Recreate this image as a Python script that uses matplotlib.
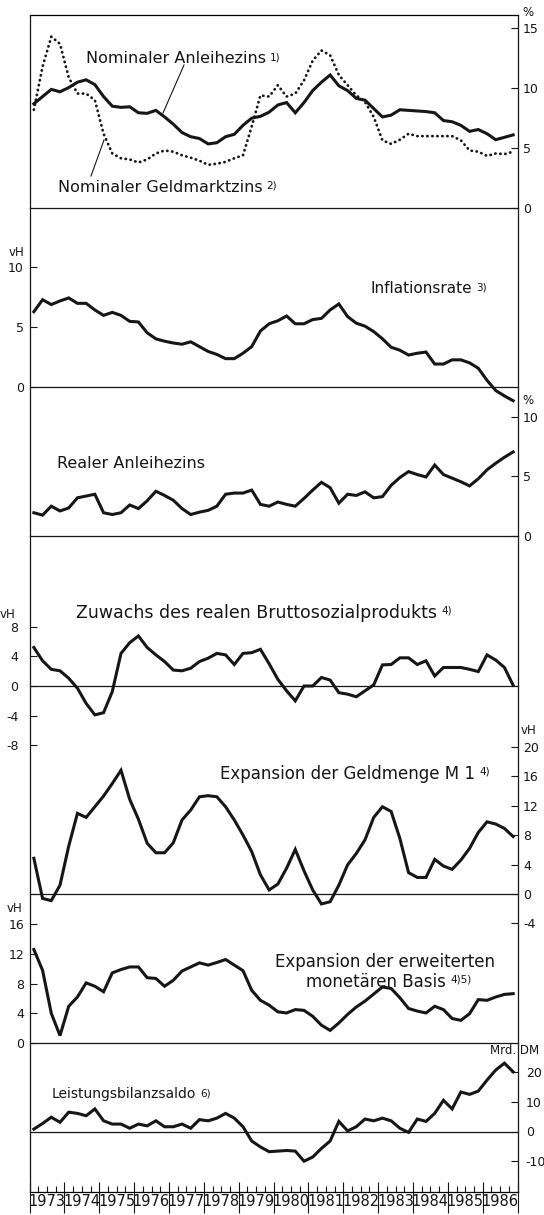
import numpy as np
import matplotlib.pyplot as plt
from matplotlib import transforms

plt.rcParams['font.family'] = ['DejaVu Sans']
plt.rcParams['axes.unicode_minus'] = False

INK = '#161616'

# quarterly values 1973 Q1 - 1986 Q4
years = np.arange(1973, 1987)
quarters = np.array([y + (q + 0.5) / 4 for y in years for q in range(4)])

nominal_bond = [8.7, 9.3, 9.9, 9.7, 10.05, 10.5, 10.7, 10.3, 9.3, 8.5,
                8.4, 8.45, 7.95, 7.9, 8.15, 7.6, 7.0, 6.3, 5.95, 5.8,
                5.35, 5.45, 5.95, 6.15, 6.9, 7.5, 7.65, 8.0, 8.6, 8.8,
                7.95, 8.8, 9.8, 10.5, 11.1, 10.2, 9.8, 9.15, 9.0, 8.3,
                7.6, 7.75, 8.2, 8.15, 8.1, 8.05, 7.95, 7.3, 7.2, 6.9,
                6.4, 6.55, 6.2, 5.7, 5.9, 6.1]
money_market = [8.2, 11.8, 14.3, 13.7, 10.9, 9.55, 9.55, 9.0, 6.2, 4.55,
                4.15, 4.05, 3.8, 4.05, 4.55, 4.8, 4.7, 4.4, 4.2, 3.95,
                3.6, 3.7, 3.85, 4.15, 4.4, 6.8, 9.4, 9.3, 10.25, 9.3,
                9.55, 10.65, 12.3, 13.15, 12.75, 11.1, 10.25, 9.4, 8.85, 7.6,
                5.65, 5.35, 5.7, 6.2, 6.0, 6.0, 6.0, 6.0, 6.0, 5.65,
                4.8, 4.7, 4.35, 4.55, 4.5, 4.7]
inflation = [6.3, 7.3, 6.9, 7.2, 7.45, 7.0, 7.0, 6.45, 6.0, 6.25,
             6.0, 5.5, 5.45, 4.55, 4.05, 3.85, 3.7, 3.6, 3.8, 3.4,
             3.0, 2.75, 2.4, 2.4, 2.85, 3.4, 4.7, 5.3, 5.55, 5.95,
             5.3, 5.3, 5.65, 5.75, 6.45, 6.95, 5.9, 5.35, 5.1, 4.65,
             4.05, 3.35, 3.1, 2.7, 2.85, 2.95, 1.95, 1.95, 2.3, 2.3,
             2.05, 1.6, 0.6, -0.25, -0.7, -1.1]
real_rate = [1.95, 1.75, 2.5, 2.1, 2.35, 3.2, 3.35, 3.5, 1.95, 1.8,
             1.95, 2.6, 2.3, 2.95, 3.75, 3.4, 3.0, 2.3, 1.8, 2.0,
             2.15, 2.5, 3.5, 3.6, 3.6, 3.85, 2.65, 2.5, 2.85, 2.65,
             2.5, 3.15, 3.85, 4.5, 4.05, 2.75, 3.5, 3.4, 3.7, 3.2,
             3.3, 4.25, 4.9, 5.4, 5.15, 4.95, 5.95, 5.15, 4.85, 4.55,
             4.2, 4.8, 5.55, 6.1, 6.6, 7.05]
gnp_growth = [5.2, 3.4, 2.25, 2.05, 1.05, -0.3, -2.35, -3.9, -3.6, -0.75,
              4.4, 5.85, 6.75, 5.2, 4.2, 3.3, 2.15, 2.05, 2.4, 3.3,
              3.75, 4.4, 4.2, 2.9, 4.4, 4.5, 4.95, 3.0, 0.9, -0.65,
              -2.0, 0.0, 0.0, 1.15, 0.8, -0.9, -1.1, -1.45, -0.65, 0.15,
              2.85, 2.9, 3.8, 3.8, 2.9, 3.4, 1.35, 2.5, 2.5, 2.5,
              2.25, 1.95, 4.2, 3.5, 2.5, 0.1]
m1_growth = [4.85, -0.6, -0.9, 1.2, 6.5, 10.95, 10.4, 11.85, 13.3, 15.0,
             16.8, 12.85, 10.15, 6.9, 5.6, 5.6, 6.95, 10.05, 11.4, 13.2,
             13.35, 13.2, 11.85, 10.05, 8.0, 5.75, 2.6, 0.55, 1.35, 3.5,
             6.05, 3.15, 0.55, -1.35, -1.05, 1.2, 3.95, 5.5, 7.35, 10.4,
             11.85, 11.2, 7.55, 2.9, 2.25, 2.25, 4.7, 3.8, 3.35, 4.6,
             6.2, 8.35, 9.8, 9.5, 8.9, 7.8]
base_growth = [12.6, 9.8, 4.0, 1.0, 4.95, 6.2, 8.1, 7.65, 6.9, 9.45,
               9.9, 10.25, 10.25, 8.8, 8.7, 7.65, 8.45, 9.7, 10.25, 10.8,
               10.5, 10.85, 11.25, 10.5, 9.75, 7.1, 5.75, 5.1, 4.2, 4.05,
               4.5, 4.4, 3.6, 2.4, 1.7, 2.7, 3.85, 4.85, 5.65, 6.6,
               7.55, 7.35, 6.1, 4.65, 4.3, 4.05, 4.95, 4.5, 3.3, 3.05,
               3.95, 5.85, 5.75, 6.2, 6.55, 6.65]
current_account = [0.8, 2.7, 4.8, 3.1, 6.5, 6.1, 5.3, 7.6, 3.6, 2.5,
                   2.5, 1.1, 2.5, 1.9, 3.6, 1.6, 1.6, 2.5, 1.1, 4.0,
                   3.6, 4.5, 6.1, 4.5, 1.6, -3.2, -5.2, -6.8, -6.6, -6.4,
                   -6.6, -10.0, -8.6, -5.7, -3.2, 3.4, 0.2, 1.6, 4.2, 3.6,
                   4.5, 3.6, 1.1, -0.3, 4.2, 3.4, 6.1, 10.5, 7.6, 13.3,
                   12.5, 13.6, 17.3, 20.7, 23.0, 20.1]

W, H = 544, 1215
X0, X1 = 29.5, 517.5

fig = plt.figure(figsize=(W / 100, H / 100), dpi=100)


def panel(top, bottom, ylim, side, ticks, pad):
    ax = fig.add_axes([X0 / W, 1 - bottom / H, (X1 - X0) / W, (bottom - top) / H])
    ax.patch.set_alpha(0)
    for s in ax.spines.values():
        s.set_visible(False)
    ax.set_xlim(1973, 1987)
    ax.set_ylim(*ylim)
    ax.set_xticks([])
    ax.set_yticks(ticks)
    if side == 'right':
        ax.yaxis.tick_right()
    ax.tick_params(axis='y', direction='in', length=5, width=0.8, pad=pad,
                   labelsize=9, colors=INK)
    ax.axhline(0, color=INK, lw=0.9, clip_on=False)
    return ax


line_kw = dict(color=INK, lw=2.2, solid_joinstyle='miter', clip_on=False)

# Zinsen
p1 = panel(15, 208, (0, 16.11), 'right', [0, 5, 10, 15], 4)
p1.spines['top'].set_visible(True)
p1.spines['top'].set_linewidth(0.9)
p1.plot(quarters, money_market, color=INK, lw=2.0, linestyle=(0, (0.1, 1.7)),
        dash_capstyle='round', clip_on=False)
p1.plot(quarters, nominal_bond, **line_kw)

# Inflation
p2 = panel(208, 387.5, (0, 14.93), 'left', [0, 5, 10], 4)
p2.plot(quarters, inflation, **line_kw)

# realer Zins
p3 = panel(387.5, 536, (0, 12.45), 'right', [0, 5, 10], 4)
p3.plot(quarters, real_rate, **line_kw)

# BSP
p4 = panel(536, 750, (-64 / 7.41, 150 / 7.41), 'left', [-8, -4, 0, 4, 8], 8)
p4.plot(quarters, gnp_growth, **line_kw)

# M1
p5 = panel(740, 930, (-36 / 7.365, 154 / 7.365), 'right', list(range(-4, 21, 4)), 4)
p5.plot(quarters, m1_growth, **line_kw)

# monetaere Basis
p6 = panel(900, 1043, (0, 143 / 7.42), 'left', [0, 4, 8, 12, 16], 4)
p6.plot(quarters, base_growth, **line_kw)

# Leistungsbilanz
p7 = panel(1043, 1192, (-60.5 / 2.97, 88.5 / 2.97), 'right', [-10, 0, 10, 20], 6)
p7.plot(quarters, current_account, **line_kw)
p7.spines['bottom'].set_visible(True)
p7.spines['bottom'].set_linewidth(0.9)
p7.set_xticks(np.arange(1973, 1988))
p7.set_xticks([y + q / 4 for y in years for q in (1, 2, 3)], minor=True)
p7.tick_params(axis='x', which='major', direction='in', length=7.5, width=0.8,
               labelbottom=False, colors=INK)
p7.tick_params(axis='x', which='minor', direction='in', length=4.5, width=0.8, colors=INK)
blend = transforms.blended_transform_factory(p7.transData, p7.transAxes)
p7.vlines(np.arange(1973, 1988), -21 / 149, 0, color=INK, lw=0.8,
          transform=blend, clip_on=False)
for y in years:
    p7.text(y + 0.5, -10 / 149, str(y), transform=blend, ha='center', va='center',
            fontsize=10.5, color=INK, family=['Liberation Sans Narrow', 'DejaVu Sans'])

# overlay in pixel coordinates for frame, titles, leader lines
ov = fig.add_axes([0, 0, 1, 1])
ov.set_xlim(0, W)
ov.set_ylim(H, 0)
ov.axis('off')
ov.plot([X0, X0], [15, 1192], color=INK, lw=0.9)
ov.plot([X1, X1], [15, 1192], color=INK, lw=0.9)
ov.plot([184, 163], [65, 113], color=INK, lw=0.8)
ov.plot([104, 91], [140, 176], color=INK, lw=0.8)


def title(x, y, s, note=None, size=11):
    t = ov.text(x, y, s, ha='center', va='baseline', fontsize=size, color=INK)
    if note:
        ov.annotate(note, xy=(1, 1), xycoords=t, xytext=(3, -1),
                    textcoords='offset points', ha='left', va='top',
                    fontsize=7.5, color=INK)
    return t


title(176, 63, 'Nominaler Anleihezins', '1)', 11.5)
title(160, 191.5, 'Nominaler Geldmarktzins', '2)', 11.5)
title(421, 293, 'Inflationsrate', '3)', 11)
title(131, 468, 'Realer Anleihezins', None, 11.5)
title(257, 618, 'Zuwachs des realen Bruttosozialprodukts', '4)', 12.5)
title(348, 779, 'Expansion der Geldmenge M 1', '4)', 12)
title(385, 967, 'Expansion der erweiterten', None, 12)
title(376, 987, 'monetären Basis', '4)5)', 12)
title(124, 1098, 'Leistungsbilanzsaldo', '6)', 10)

unit_kw = dict(ha='center', va='center', fontsize=8.5, color=INK)
ov.text(528, 12, '%', **unit_kw)
ov.text(16.5, 253, 'vH', **unit_kw)
ov.text(528, 401, '%', **unit_kw)
ov.text(8, 614, 'vH', **unit_kw)
ov.text(529, 730, 'vH', **unit_kw)
ov.text(15, 908, 'vH', **unit_kw)
ov.text(515, 1050, 'Mrd. DM', **unit_kw)

fig.savefig('out.png', dpi=100, facecolor='white')
